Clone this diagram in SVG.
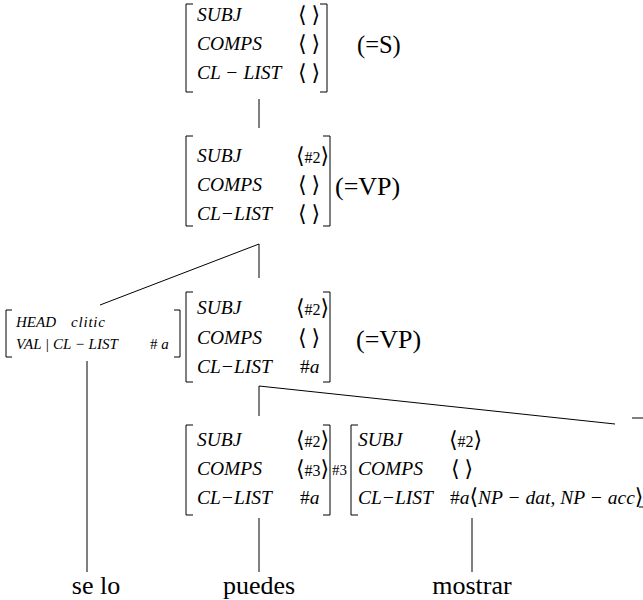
<svg xmlns="http://www.w3.org/2000/svg" width="643" height="600" viewBox="0 0 643 600">
<style>
text{font-family:"Liberation Serif","Times New Roman",serif;fill:#000}
.f{font-style:italic;font-size:19.5px}
.s{font-style:italic;font-size:15px}
.r{font-style:normal}
.ang{font-family:"DejaVu Sans",sans-serif;font-style:normal;font-size:22px}
.n{font-style:normal;font-size:16px}
.lab{font-size:24.5px}
.vp{font-size:26px}
.w{font-size:26px;text-anchor:middle}
.br{fill:none;stroke:#000;stroke-width:1}
.ln{stroke:#000;stroke-width:1;fill:none}
</style>
<rect width="643" height="600" fill="#fff"/>
<g id="connectors">
<line class="ln" x1="259" y1="99" x2="259" y2="128"/>
<line class="ln" x1="259" y1="244" x2="259" y2="278"/>
<line class="ln" x1="259" y1="244" x2="100" y2="305"/>
<line class="ln" x1="87" y1="361" x2="87" y2="572"/>
<line class="ln" x1="259" y1="386" x2="259" y2="416"/>
<line class="ln" x1="259" y1="386" x2="615" y2="424"/>
<line class="ln" x1="259" y1="518" x2="259" y2="572"/>
<line class="ln" x1="472" y1="518" x2="472" y2="572"/>
<line class="ln" x1="632" y1="418" x2="643" y2="418"/>
<line class="ln" x1="639" y1="507" x2="643" y2="507"/>
</g>
<g id="n_s">
<path class="br" d="M193 4H186V92H193"/>
<path class="br" d="M320 4H327V92H320"/>
<text class="f" x="197" y="21">SUBJ</text>
<text class="f" x="197" y="50">COMPS</text>
<text class="f" x="197" y="79">CL − LIST</text>
<text x="298" y="22"><tspan class="ang">⟨</tspan><tspan class="ang" dx="5">⟩</tspan></text>
<text x="298" y="51"><tspan class="ang">⟨</tspan><tspan class="ang" dx="5">⟩</tspan></text>
<text x="298" y="80"><tspan class="ang">⟨</tspan><tspan class="ang" dx="5">⟩</tspan></text>
<text class="lab" x="357" y="53">(=S)</text>
</g>
<g id="n_vp1">
<path class="br" d="M193 136H186V226H193"/>
<path class="br" d="M323 136H330V226H323"/>
<text class="f" x="197" y="162">SUBJ</text>
<text class="f" x="197" y="191">COMPS</text>
<text class="f" x="197" y="220">CL−LIST</text>
<text x="296" y="163"><tspan class="ang">⟨</tspan><tspan class="n">#2</tspan><tspan class="ang">⟩</tspan></text>
<text x="298" y="192"><tspan class="ang">⟨</tspan><tspan class="ang" dx="5">⟩</tspan></text>
<text x="298" y="221"><tspan class="ang">⟨</tspan><tspan class="ang" dx="5">⟩</tspan></text>
<text class="vp" x="335" y="195">(=VP)</text>
</g>
<g id="n_clitic">
<path class="br" d="M12 310H6V357H12"/>
<path class="br" d="M174 310H180V357H174"/>
<text class="s" x="16" y="327">HEAD</text>
<text class="s" x="71" y="327" letter-spacing="0.8">clitic</text>
<text class="s" x="16" y="349">VAL | CL − LIST</text>
<text class="s" x="150" y="349"><tspan class="r">#</tspan> a</text>
</g>
<g id="n_vp2">
<path class="br" d="M193 292H186V382H193"/>
<path class="br" d="M323 292H330V382H323"/>
<text class="f" x="197" y="314">SUBJ</text>
<text class="f" x="197" y="344">COMPS</text>
<text class="f" x="197" y="373">CL−LIST</text>
<text x="296" y="315"><tspan class="ang">⟨</tspan><tspan class="n">#2</tspan><tspan class="ang">⟩</tspan></text>
<text x="298" y="345"><tspan class="ang">⟨</tspan><tspan class="ang" dx="5">⟩</tspan></text>
<text class="f" x="300" y="373"><tspan class="r">#</tspan>a</text>
<text class="vp" x="356" y="348">(=VP)</text>
</g>
<g id="n_puedes">
<path class="br" d="M193 425H186V515H193"/>
<path class="br" d="M323 425H330V515H323"/>
<text class="f" x="197" y="446">SUBJ</text>
<text class="f" x="197" y="475">COMPS</text>
<text class="f" x="197" y="504">CL−LIST</text>
<text x="296" y="447"><tspan class="ang">⟨</tspan><tspan class="n">#2</tspan><tspan class="ang">⟩</tspan></text>
<text x="296" y="476"><tspan class="ang">⟨</tspan><tspan class="n">#3</tspan><tspan class="ang">⟩</tspan></text>
<text class="f" x="300" y="504"><tspan class="r">#</tspan>a</text>
<text x="332" y="475" font-size="15">#3</text>
</g>
<g id="n_mostrar">
<path class="br" d="M358 425H351V515H358"/>
<text class="f" x="358" y="446">SUBJ</text>
<text class="f" x="358" y="475">COMPS</text>
<text class="f" x="358" y="504">CL−LIST</text>
<text x="449" y="447"><tspan class="ang">⟨</tspan><tspan class="n">#2</tspan><tspan class="ang">⟩</tspan></text>
<text x="451" y="476"><tspan class="ang">⟨</tspan><tspan class="ang" dx="5">⟩</tspan></text>
<text class="f" x="450" y="504" font-size="19"><tspan class="r">#</tspan>a<tspan class="ang">⟨</tspan>NP − dat<tspan class="r">,</tspan> NP − acc<tspan class="ang">⟩</tspan></text>
</g>
<g id="w_selo"><text class="w" x="96" y="594">se lo</text></g>
<g id="w_puedes"><text class="w" x="259" y="594">puedes</text></g>
<g id="w_mostrar"><text class="w" x="472" y="594">mostrar</text></g>
</svg>
